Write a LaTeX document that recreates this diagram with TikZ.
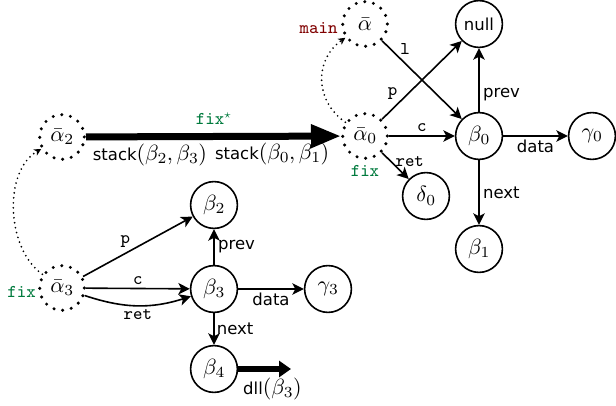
\documentclass[tikz,border=0pt]{standalone}
\usepackage{fontspec}
\newfontfamily\dejavu{DejaVu Sans}
\usetikzlibrary{arrows.meta}
\DeclareFontShape{OML}{cmm}{m}{it}{<-12>cmmi7<12->cmmi10}{\skewchar\font=127}
\DeclareFontShape{OT1}{cmr}{m}{n}{<-18>cmr7<18->cmr10}{}
\DeclareFontShape{OMS}{cmsy}{m}{n}{<-18>cmsy7<18->cmsy10}{\skewchar\font=48}
\DeclareFontShape{OT1}{cmtt}{m}{n}{<->cmtt9}{\hyphenchar\font=-1}
\definecolor{fixgreen}{RGB}{0,122,61}
\definecolor{mainred}{RGB}{128,0,0}
\newcommand{\sflbl}{\dejavu\fontsize{16.5}{19}\selectfont}
\newcommand{\ttlbl}{\fontsize{18}{21}\usefont{OT1}{cmtt}{m}{n}}
\begin{document}
\begin{tikzpicture}[x=1pt,y=1pt,
 font=\fontsize{22}{26}\selectfont,
 st/.style={circle,draw,line width=1.6pt,minimum size=46.8pt,inner sep=0pt},
 dt/.style={circle,draw,line width=3.4pt,dash pattern=on 0pt off 8.8pt,line cap=round,minimum size=44.6pt,inner sep=0pt},
 arr/.style={-{Stealth[length=11.5pt,width=11.5pt,inset=3pt]},line width=1.6pt},
 dotarr/.style={-{Stealth[length=7pt,width=7pt,inset=2pt]},line width=1.9pt,dash pattern=on 0pt off 5pt,line cap=round},
 tl/.style={font=\ttlbl},
 sl/.style={font=\sflbl},
]
\useasboundingbox (0,0) rectangle (616,-406);
\node[dt,label={[font=\ttlbl,text=mainred,yshift=-4.5pt]left:main}] (ab) at (365,-24) {$\bar\alpha$};
\node[st,sl] (null) at (479,-24) {null};
\node[dt] (a0) at (365,-136) {$\bar\alpha_0$};
\node[anchor=north,tl,text=fixgreen,inner sep=2.5pt,yshift=-2.5pt] (a0fix) at (a0.south) {fix};
\node[st] (b0) at (479,-136) {$\beta_0$};
\node[st] (g0) at (592,-136) {$\gamma_0$};
\node[st] (d0) at (426,-196) {$\delta_0$};
\node[st] (b1) at (479,-249) {$\beta_1$};
\node[dt] (a2) at (62,-137) {$\bar\alpha_2$};
\node[dt,label={[font=\ttlbl,text=fixgreen,yshift=-4.5pt,inner sep=2pt]left:fix}] (a3) at (62,-288) {$\bar\alpha_3$};
\node[st] (b2) at (214,-205) {$\beta_2$};
\node[st] (b3) at (214,-289) {$\beta_3$};
\node[st] (g3) at (328,-289) {$\gamma_3$};
\node[st] (b4) at (214,-369) {$\beta_4$};
\coordinate (dllend) at (291,-369);

\draw[line width=7pt,-{Triangle[length=30pt,width=22pt]}] (a2) -- (a0)
  node[midway,above=5pt,tl,text=fixgreen]{fix$^\star$}
  node[pos=0,anchor=north west]{{\sflbl stack}$(\beta_2,\beta_3)$}
  node[pos=1,anchor=north east,xshift=-5pt]{{\sflbl stack}$(\beta_0,\beta_1)$};
\draw[dotarr] (a0) to[out=145,in=215,looseness=1.15] (ab);
\draw[dotarr] (a3) to[out=145,in=210,looseness=0.9] (a2);

\draw[arr] (a0) -- (b0) node[midway,above,tl]{c};
\draw[arr] (a0) -- (null) node[pos=0.22,above left,inner sep=1.5pt,tl]{p};
\draw[arr] (ab) -- (b0) node[pos=0.2,above right,inner sep=1.5pt,tl]{l};
\draw[arr] (a0) -- (d0) node[pos=0.35,right,tl]{ret};
\draw[arr] (b0) -- (null) node[pos=0.27,right,sl]{prev};
\draw[arr] (b0) -- (g0) node[midway,below,sl]{data};
\draw[arr] (b0) -- (b1) node[midway,right,sl]{next};

\draw[arr] (a3) -- (b2) node[pos=0.45,above left,inner sep=1.5pt,tl]{p};
\draw[arr] (a3) -- (b3) node[midway,above,tl]{c};
\draw[arr] (a3) to[bend right=18] node[midway,below,tl]{ret} (b3);
\draw[arr] (b3) -- (b2) node[midway,right,sl]{prev};
\draw[arr] (b3) -- (g3) node[midway,below,sl]{data};
\draw[arr] (b3) -- (b4) node[midway,right,inner sep=2pt,sl]{next};
\draw[line width=6pt,-{Triangle[length=12pt,width=16pt]}] (b4) -- (dllend)
  node[pos=0,anchor=north west,inner sep=2pt,yshift=-4pt]{{\sflbl dll}$(\beta_3)$};
\end{tikzpicture}
\end{document}
